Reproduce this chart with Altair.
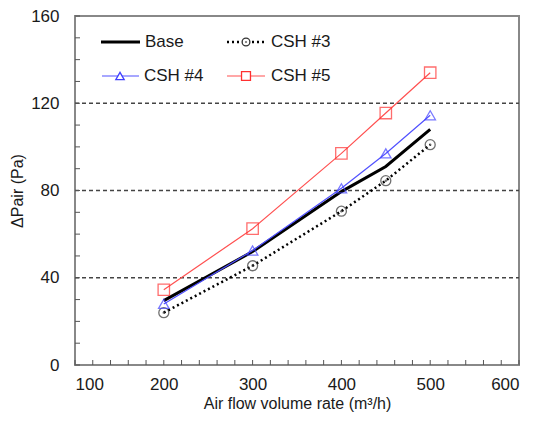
import altair as alt
import pandas as pd

# ---- data ----
flow = [200, 300, 400, 450, 500]
base = [29.5, 52.0, 79.5, 91.0, 108.0]
csh3 = [24.0, 45.5, 70.5, 84.5, 101.0]
csh4 = [28.0, 52.5, 81.0, 97.0, 114.5]
csh5 = [34.5, 62.5, 97.0, 115.5, 134.0]
series_names = ["Base", "CSH #3", "CSH #4", "CSH #5"]
x_tick_labels = [100, 200, 300, 400, 500, 600]
y_tick_labels = [0, 40, 80, 120, 160]
grid_values = [40, 80, 120]
x_minor = list(range(100, 601, 20))
y_minor = list(range(0, 161, 10))

W, H = 444, 349
FONT = "Liberation Sans"
TXT = "#1a1a1a"

rows = []
for name, vals in zip(series_names, [base, csh3, csh4, csh5]):
    for f, v in zip(flow, vals):
        rows.append({"series": name, "flow": f, "dp": v})
df = pd.DataFrame(rows)

xs = alt.Scale(domain=[100, 600], nice=False, zero=False)
ys = alt.Scale(domain=[0, 160], nice=False)

x_axis = alt.Axis(values=x_tick_labels, grid=False, ticks=False, domain=False,
                  labelFontSize=17, labelPadding=11, labelColor=TXT, labelFont=FONT,
                  title="Air flow volume rate (m³/h)", titleFontSize=16,
                  titleFont=FONT, titleFontWeight="normal", titleColor=TXT,
                  titlePadding=3)
y_axis = alt.Axis(values=y_tick_labels, grid=False, ticks=False, domain=False,
                  labelFontSize=17, labelPadding=16, labelColor=TXT, labelFont=FONT,
                  title="ΔPair (Pa)", titleFontSize=16, titleFont=FONT,
                  titleFontWeight="normal", titleColor=TXT, titlePadding=5)

def XF(f):
    return alt.X(f + ":Q", scale=xs, axis=x_axis)

def YF(f):
    return alt.Y(f + ":Q", scale=ys, axis=y_axis)

grid = alt.Chart(pd.DataFrame({"g": grid_values})).mark_rule(
    color="#444", strokeDash=[4, 3], strokeWidth=1.5
).encode(y=YF("g"), x=alt.value(0), x2=alt.value(W))

xt = alt.Chart(pd.DataFrame({"t": x_minor})).mark_rule(color="#555", strokeWidth=1).encode(
    x=XF("t"), y=alt.value(H), y2=alt.value(H - 5))
yt = alt.Chart(pd.DataFrame({"t": y_minor})).mark_rule(color="#555", strokeWidth=1).encode(
    y=YF("t"), x=alt.value(0), x2=alt.value(5))

def sub(name):
    return alt.Chart(df).transform_filter(alt.datum.series == name)

X, Y = XF("flow"), YF("dp")
l_base = sub("Base").mark_line(color="black", strokeWidth=3).encode(x=X, y=Y)
l_c3 = sub("CSH #3").mark_line(color="black", strokeWidth=2.5, strokeDash=[2, 3]).encode(x=X, y=Y)
p_c3 = sub("CSH #3").mark_point(shape="circle", size=100, color="#333", strokeWidth=1.3,
                                filled=False).encode(x=X, y=Y)
d_c3 = sub("CSH #3").mark_point(shape="circle", size=6, color="#333", filled=True).encode(x=X, y=Y)
l_c4 = sub("CSH #4").mark_line(color="#5050ff", strokeWidth=1.2).encode(x=X, y=Y)
p_c4 = sub("CSH #4").mark_point(shape="triangle-up", size=110, color="#4040ff",
                                strokeWidth=1.3, filled=False).encode(x=X, y=Y)
l_c5 = sub("CSH #5").mark_line(color="#ff5050", strokeWidth=1.2).encode(x=X, y=Y)
p_c5 = sub("CSH #5").mark_point(shape="square", size=130, color="#ff3030",
                                strokeWidth=1.3, filled=False).encode(x=X, y=Y)

# ---- legend (layout in pixels) ----
leg_x1 = [26, 152, 27, 152]
leg_x2 = [65, 189, 64, 190]
leg_mx = [45, 171, 45, 171]
leg_tx = [70, 196, 69, 196]
leg_y = [26, 26, 60, 60]
leg_style = {
    "Base": dict(color="black", strokeWidth=3),
    "CSH #3": dict(color="black", strokeWidth=2.5, strokeDash=[2, 3]),
    "CSH #4": dict(color="#5050ff", strokeWidth=1.2),
    "CSH #5": dict(color="#ff5050", strokeWidth=1.2),
}
leg_marker = {
    "CSH #3": dict(shape="circle", size=60, color="#333"),
    "CSH #4": dict(shape="triangle-up", size=70, color="#4040ff"),
    "CSH #5": dict(shape="square", size=80, color="#ff3030"),
}
one = pd.DataFrame({"k": [0]})
leg_layers = []
for i, name in enumerate(series_names):
    leg_layers.append(alt.Chart(one).mark_rule(**leg_style[name]).encode(
        x=alt.value(leg_x1[i]), x2=alt.value(leg_x2[i]), y=alt.value(leg_y[i])))
    if name in leg_marker:
        leg_layers.append(alt.Chart(one).mark_point(filled=False, fill="white", fillOpacity=1,
                                                     strokeWidth=1.3, **leg_marker[name]).encode(
            x=alt.value(leg_mx[i]), y=alt.value(leg_y[i])))
    if name == "CSH #3":
        leg_layers.append(alt.Chart(one).mark_point(shape="circle", size=5, color="#333",
                                                     filled=True).encode(
            x=alt.value(leg_mx[i]), y=alt.value(leg_y[i])))
    leg_layers.append(alt.Chart(one).mark_text(
        text=name, align="left", baseline="middle", font=FONT, fontSize=17, color=TXT
    ).encode(x=alt.value(leg_tx[i]), y=alt.value(leg_y[i])))

chart = alt.layer(
    grid, xt, yt, l_base, l_c3, l_c4, l_c5, p_c3, d_c3, p_c4, p_c5, *leg_layers
).properties(
    width=W, height=H,
    autosize=alt.AutoSizeParams(type="none"),
    padding={"left": 67, "top": 8, "right": 15, "bottom": 48},
).configure_view(stroke="#888", strokeWidth=2)

chart.save("out.html", embed_options={"renderer": "svg", "actions": False})
